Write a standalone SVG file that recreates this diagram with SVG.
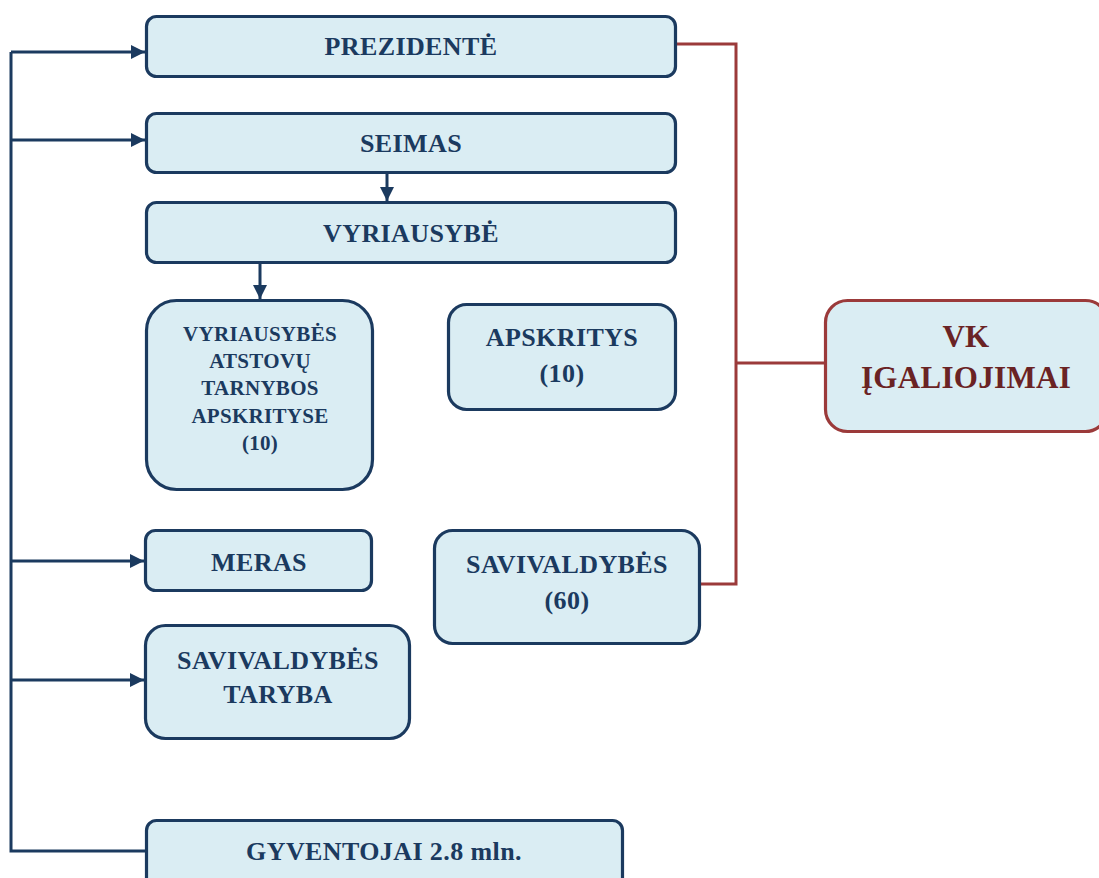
<svg xmlns="http://www.w3.org/2000/svg" width="1099" height="878" viewBox="0 0 1099 878">
  <style>
    .box { fill: #daedf3; stroke: #1b3a5f; stroke-width: 3.2; }
    .vk { fill: #daedf3; stroke: #9b3a3a; stroke-width: 3.2; }
    .t { font-family: "Liberation Serif", "Times New Roman", serif; font-weight: bold; fill: #1b3a5f; text-anchor: middle; }
    .big { font-size: 26px; letter-spacing: 0.4px; }
    .small { font-size: 21px; letter-spacing: 0.3px; }
    .vkt { font-family: "Liberation Serif", "Times New Roman", serif; font-weight: bold; fill: #6a2324; text-anchor: middle; font-size: 31px; letter-spacing: 0.3px; }
    .blue { fill: none; stroke: #1b3a5f; stroke-width: 3; }
    .red { fill: none; stroke: #9b3a3a; stroke-width: 3; }
  </style>
  <defs>
    <marker id="arrow" markerUnits="userSpaceOnUse" markerWidth="16" markerHeight="16" viewBox="0 0 16 16" refX="15" refY="8" orient="auto">
      <path d="M1,1 L15,8 L1,15 Z" fill="#1b3a5f"/>
    </marker>
  </defs>

  <!-- connectors -->
  <g id="connectors">
    <path class="blue" d="M11,52 V851 H146"/>
    <path class="blue" d="M11,52 H145" marker-end="url(#arrow)"/>
    <path class="blue" d="M11,140 H145" marker-end="url(#arrow)"/>
    <path class="blue" d="M11,561 H144" marker-end="url(#arrow)"/>
    <path class="blue" d="M11,680 H144" marker-end="url(#arrow)"/>
    <path class="blue" d="M387,174 V201" marker-end="url(#arrow)"/>
    <path class="blue" d="M260,264 V299" marker-end="url(#arrow)"/>
    <path class="red" d="M676,44 H736 V584 H700"/>
    <path class="red" d="M736,363 H825"/>
  </g>

  <g id="prezidente">
    <rect class="box" x="146.5" y="16.5" width="529" height="60" rx="10"/>
    <text class="t big" x="411" y="55">PREZIDENTĖ</text>
  </g>
  <g id="seimas">
    <rect class="box" x="146.5" y="113.5" width="529" height="59" rx="10"/>
    <text class="t big" x="411" y="152">SEIMAS</text>
  </g>
  <g id="vyriausybe">
    <rect class="box" x="146.5" y="202.5" width="529" height="60" rx="10"/>
    <text class="t big" x="411" y="242">VYRIAUSYBĖ</text>
  </g>
  <g id="atstovu-tarnybos">
    <rect class="box" x="146.5" y="300.5" width="226" height="189" rx="30"/>
    <text class="t small" x="260" y="341">VYRIAUSYBĖS</text>
    <text class="t small" x="260" y="368">ATSTOVŲ</text>
    <text class="t small" x="260" y="395">TARNYBOS</text>
    <text class="t small" x="260" y="423">APSKRITYSE</text>
    <text class="t small" x="260" y="450">(10)</text>
  </g>
  <g id="apskritys">
    <rect class="box" x="448.5" y="304.5" width="227" height="105" rx="18"/>
    <text class="t big" x="562" y="346">APSKRITYS</text>
    <text class="t big" x="562" y="382">(10)</text>
  </g>
  <g id="vk-igaliojimai">
    <rect class="vk" x="825.5" y="300.5" width="282" height="131" rx="22"/>
    <text class="vkt" x="966" y="347">VK</text>
    <text class="vkt" x="966" y="388">ĮGALIOJIMAI</text>
  </g>
  <g id="meras">
    <rect class="box" x="145.5" y="530.5" width="226" height="60" rx="10"/>
    <text class="t big" x="259" y="571">MERAS</text>
  </g>
  <g id="savivaldybes">
    <rect class="box" x="434.5" y="530.5" width="265" height="113" rx="18"/>
    <text class="t big" x="567" y="573">SAVIVALDYBĖS</text>
    <text class="t big" x="567" y="609">(60)</text>
  </g>
  <g id="savivaldybes-taryba">
    <rect class="box" x="145.5" y="625.5" width="264" height="113" rx="20"/>
    <text class="t big" x="278" y="669">SAVIVALDYBĖS</text>
    <text class="t big" x="278" y="703">TARYBA</text>
  </g>
  <g id="gyventojai">
    <rect class="box" x="146.5" y="820.5" width="476" height="70" rx="10"/>
    <text class="t big" x="384" y="860">GYVENTOJAI 2.8 mln.</text>
  </g>
</svg>
